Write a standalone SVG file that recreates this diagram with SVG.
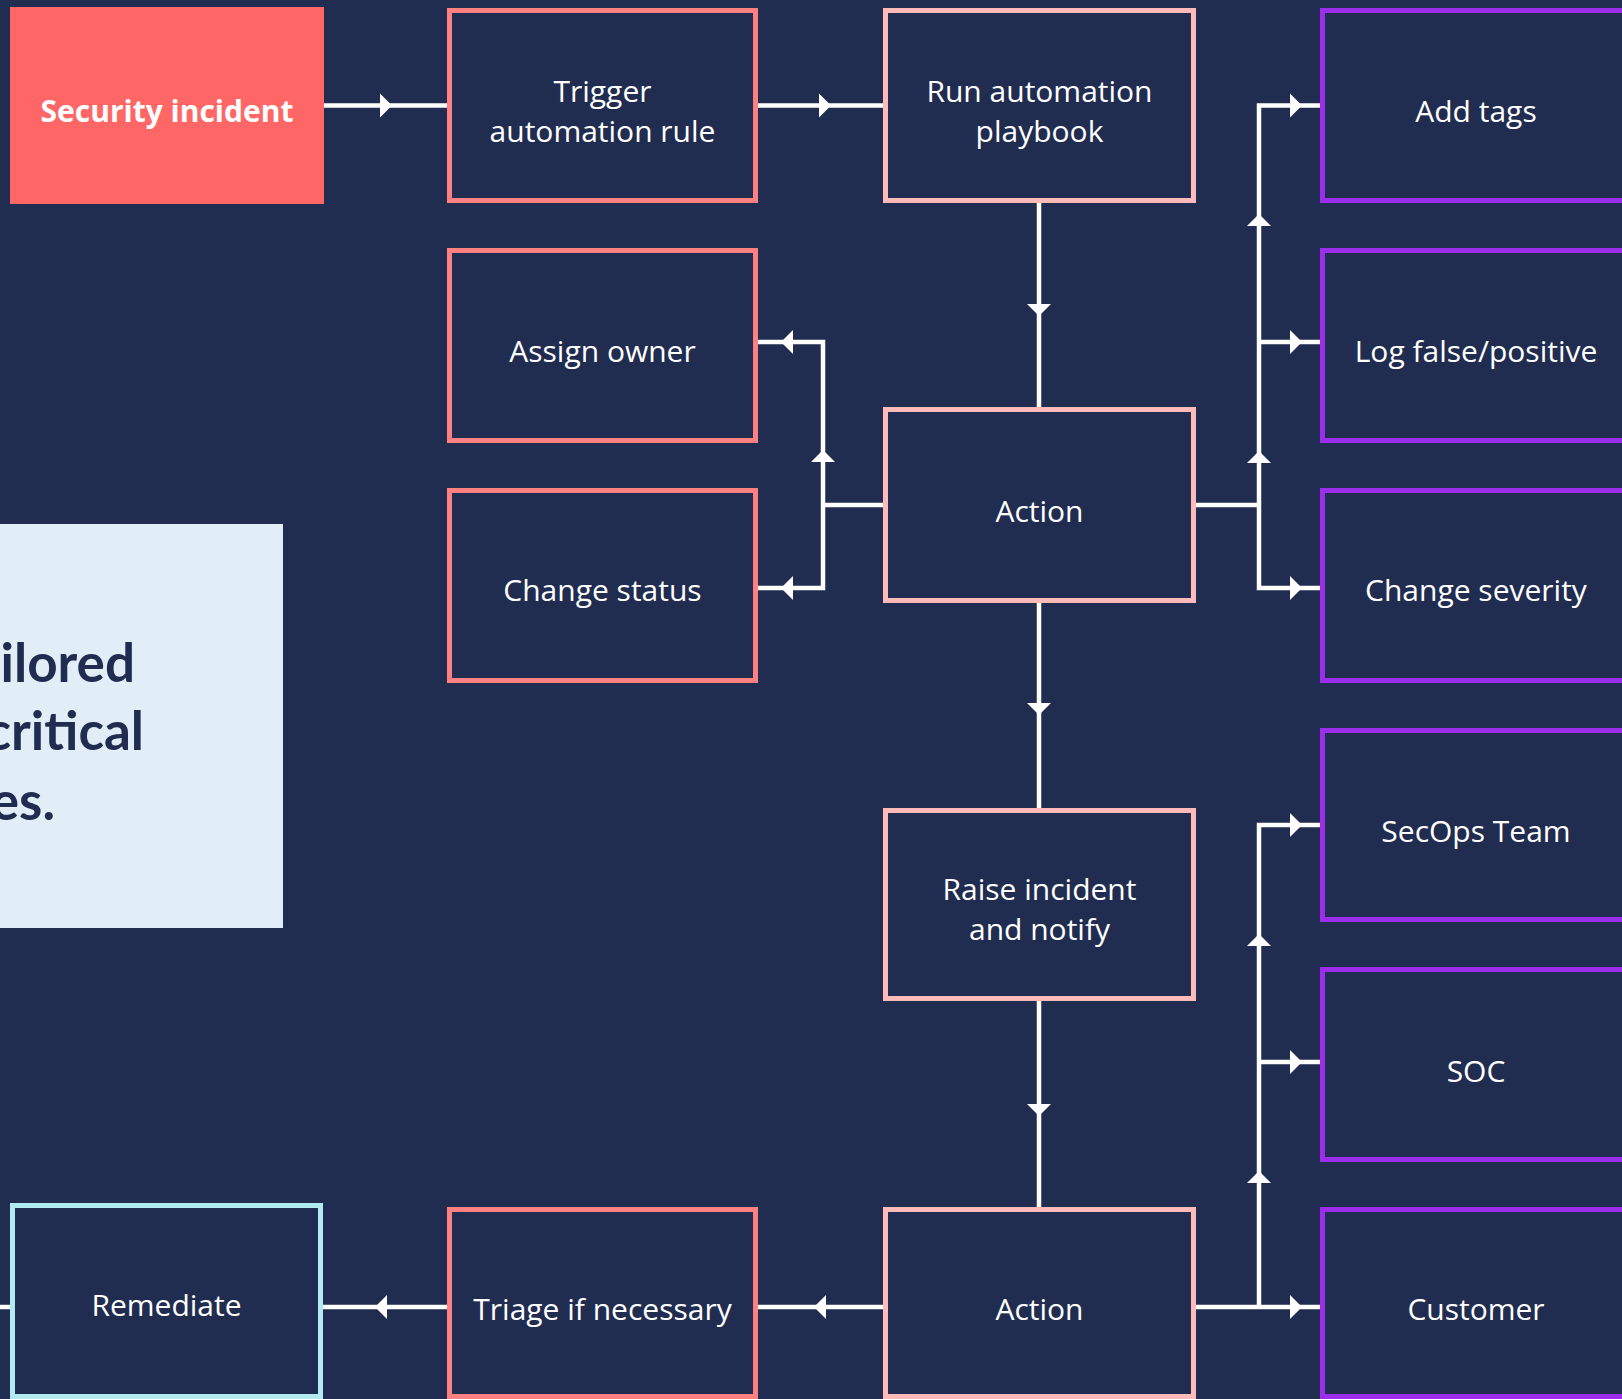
<svg xmlns="http://www.w3.org/2000/svg" xmlns:xlink="http://www.w3.org/1999/xlink" width="1622" height="1399" viewBox="0 0 1622 1399">
  <style>
    .box { fill: #212D50; stroke-width: 5; }
    .coral { stroke: #FF8080; }
    .pink { stroke: #FFBABA; }
    .purple { stroke: #9B2DEB; }
    .cyan { stroke: #B2EBEF; }
    .lbl { font-family: "Open Sans", "DejaVu Sans", sans-serif; font-size: 30px; fill: #FFFFFF; text-anchor: middle; }
    .big { font-family: Lato, "Open Sans", sans-serif; font-weight: 700; font-size: 53px; fill: #212D50; text-anchor: end; }
    .wire { fill: none; stroke: #FFFFFF; stroke-width: 4.5; stroke-linejoin: miter; stroke-linecap: butt; }
  </style>
  <defs>
    <path id="ah" d="M-6,-12 L6,0 L-6,12 Z" fill="#FFFFFF"/>
  </defs>
  <rect x="0" y="0" width="1622" height="1399" fill="#212D50"/>

  <g id="panel">
    <rect x="0" y="524" width="283" height="404" fill="#E1EEF7"/>
    <text class="big" x="135" y="682">ilored</text>
    <text class="big" x="144" y="750">critical</text>
    <text class="big" x="55" y="820">es.</text>
  </g>

  <g id="connectors">
    <path class="wire" d="M324,105.5 H447"/>
    <use xlink:href="#ah" transform="translate(386,105.5)"/>
    <path class="wire" d="M758,105.5 H883"/>
    <use xlink:href="#ah" transform="translate(825,105.5)"/>
    <path class="wire" d="M1039,203 V407"/>
    <use xlink:href="#ah" transform="translate(1039,310) rotate(90)"/>

    <path class="wire" d="M883,505 H823"/>
    <path class="wire" d="M758,342 H823 V588 H758"/>
    <use xlink:href="#ah" transform="translate(787,342) rotate(180)"/>
    <use xlink:href="#ah" transform="translate(787,588) rotate(180)"/>
    <use xlink:href="#ah" transform="translate(823,456) rotate(-90)"/>

    <path class="wire" d="M1196,505 H1259"/>
    <path class="wire" d="M1320,105.5 H1259 V588 H1320"/>
    <path class="wire" d="M1259,342 H1320"/>
    <use xlink:href="#ah" transform="translate(1296,105.5)"/>
    <use xlink:href="#ah" transform="translate(1296,342)"/>
    <use xlink:href="#ah" transform="translate(1296,588)"/>
    <use xlink:href="#ah" transform="translate(1259,220) rotate(-90)"/>
    <use xlink:href="#ah" transform="translate(1259,457) rotate(-90)"/>

    <path class="wire" d="M1039,603 V808"/>
    <use xlink:href="#ah" transform="translate(1039,709) rotate(90)"/>
    <path class="wire" d="M1039,1001 V1207"/>
    <use xlink:href="#ah" transform="translate(1039,1110) rotate(90)"/>

    <path class="wire" d="M883,1307 H758"/>
    <use xlink:href="#ah" transform="translate(820,1307) rotate(180)"/>
    <path class="wire" d="M447,1307 H323"/>
    <use xlink:href="#ah" transform="translate(381,1307) rotate(180)"/>
    <path class="wire" d="M10,1307 H0"/>

    <path class="wire" d="M1196,1307 H1320"/>
    <path class="wire" d="M1320,825 H1259 V1307"/>
    <path class="wire" d="M1259,1062 H1320"/>
    <use xlink:href="#ah" transform="translate(1296,825)"/>
    <use xlink:href="#ah" transform="translate(1296,1062)"/>
    <use xlink:href="#ah" transform="translate(1296,1307)"/>
    <use xlink:href="#ah" transform="translate(1259,940) rotate(-90)"/>
    <use xlink:href="#ah" transform="translate(1259,1177) rotate(-90)"/>
  </g>

  <g id="security-incident">
    <rect x="10" y="7" width="314" height="197" fill="#FF6666"/>
    <text class="lbl" x="167" y="122" font-weight="700" font-size="29">Security incident</text>
  </g>
  <g id="trigger">
    <rect class="box coral" x="449.5" y="10.5" width="306" height="190"/>
    <text class="lbl" x="602.5" y="102">Trigger</text>
    <text class="lbl" x="602.5" y="142">automation rule</text>
  </g>
  <g id="run-playbook">
    <rect class="box pink" x="885.5" y="10.5" width="308" height="190"/>
    <text class="lbl" x="1039.5" y="102">Run automation</text>
    <text class="lbl" x="1039.5" y="142">playbook</text>
  </g>
  <g id="add-tags">
    <rect class="box purple" x="1322.5" y="10.5" width="307" height="190"/>
    <text class="lbl" x="1476" y="122">Add tags</text>
  </g>
  <g id="assign-owner">
    <rect class="box coral" x="449.5" y="250.5" width="306" height="190"/>
    <text class="lbl" x="602.5" y="362">Assign owner</text>
  </g>
  <g id="log-false-positive">
    <rect class="box purple" x="1322.5" y="250.5" width="307" height="190"/>
    <text class="lbl" x="1476" y="362">Log false/positive</text>
  </g>
  <g id="action-1">
    <rect class="box pink" x="885.5" y="409.5" width="308" height="191"/>
    <text class="lbl" x="1039.5" y="521.5">Action</text>
  </g>
  <g id="change-status">
    <rect class="box coral" x="449.5" y="490.5" width="306" height="190"/>
    <text class="lbl" x="602.5" y="601">Change status</text>
  </g>
  <g id="change-severity">
    <rect class="box purple" x="1322.5" y="490.5" width="307" height="190"/>
    <text class="lbl" x="1476" y="601">Change severity</text>
  </g>
  <g id="secops-team">
    <rect class="box purple" x="1322.5" y="730.5" width="307" height="189"/>
    <text class="lbl" x="1476" y="841.5">SecOps Team</text>
  </g>
  <g id="raise-incident">
    <rect class="box pink" x="885.5" y="810.5" width="308" height="188"/>
    <text class="lbl" x="1039.5" y="900">Raise incident</text>
    <text class="lbl" x="1039.5" y="940">and notify</text>
  </g>
  <g id="soc">
    <rect class="box purple" x="1322.5" y="969.5" width="307" height="190"/>
    <text class="lbl" x="1476" y="1081.5">SOC</text>
  </g>
  <g id="remediate">
    <rect class="box cyan" x="12.5" y="1205.5" width="308" height="191"/>
    <text class="lbl" x="166.5" y="1316">Remediate</text>
  </g>
  <g id="triage">
    <rect class="box coral" x="449.5" y="1209.5" width="306" height="187"/>
    <text class="lbl" x="602.5" y="1319.5">Triage if necessary</text>
  </g>
  <g id="action-2">
    <rect class="box pink" x="885.5" y="1209.5" width="308" height="187"/>
    <text class="lbl" x="1039.5" y="1319.5">Action</text>
  </g>
  <g id="customer">
    <rect class="box purple" x="1322.5" y="1209.5" width="307" height="187"/>
    <text class="lbl" x="1476" y="1319.5">Customer</text>
  </g>
</svg>
